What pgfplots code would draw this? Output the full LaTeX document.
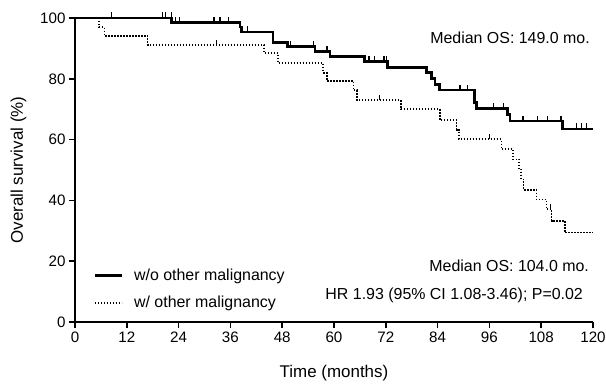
\documentclass[border=0pt]{standalone}
\usepackage{fontspec}
\setmainfont{Liberation Sans}
\usepackage{pgfplots}
\pgfplotsset{compat=1.18}
\pgfdeclareplotmark{cens}{\pgfpathmoveto{\pgfpointorigin}\pgfpathlineto{\pgfpoint{0pt}{5.5bp}}\pgfusepathqstroke}
\begin{document}
\begin{tikzpicture}
\begin{axis}[
  at={(0,0)}, anchor=south west,
  scale only axis, width=518bp, height=304bp,
  xmin=0, xmax=120, ymin=0, ymax=100,
  axis x line*=bottom, axis y line*=left,
  clip=false,
  xtick={0,12,...,120}, ytick={0,20,...,100},
  tick align=outside, major tick length=6bp,
  axis line style={line width=1.7bp},
  tick style={line width=1.7bp, black},
  /pgf/number format/assume math mode=true,
  ticklabel style={font=\fontsize{15.2}{18}\selectfont},
  xlabel={Time (months)}, ylabel={Overall survival (\%)},
  label style={font=\fontsize{17}{20}\selectfont},
  x label style={at={(axis description cs:0.5,-0.168)}, anchor=center},
  y label style={at={(axis description cs:-0.109,0.5)}, anchor=center},
  legend style={at={(axis cs:4.24,17.6)}, anchor=north west, draw=none, fill=none,
    font=\fontsize{16}{19}\selectfont, row sep=14.5bp, inner sep=0pt,
    nodes={inner sep=0pt}, cells={anchor=west},
    /tikz/every odd column/.append style={column sep=11bp}},
  legend image code/.code={\draw[#1] (0bp,0bp) -- (27bp,0bp);},
]
\addlegendimage{black, line width=2.6bp}
\addlegendentry{w/o other malignancy}
\addlegendimage{black, line width=1.7bp, dash pattern=on 1.5bp off 1.5bp}
\addlegendentry{w/ other malignancy}

% without other malignancy
\addplot[black, line width=2.7bp, const plot, forget plot] coordinates {
(0,100) (22.4,98.5) (38.2,97.0) (38.6,95.4) (45.9,92.0) (49.2,90.6) (55.6,88.9)
(59.1,87.3) (67.0,85.6) (72.4,83.7) (81.5,82.0) (82.6,80.2) (83.4,78.2) (84.5,76.3)
(92.5,72.3) (93.0,70.3) (100.2,68.2) (100.8,66.1) (113.0,63.5) (120,63.5)};
\addplot[black, line width=1.2bp, only marks, mark=cens, forget plot] coordinates {
(8.5,100) (20.3,100) (21,100) (22.4,100) (23.2,98.5) (24.2,98.5) (32.2,98.5)
(33.6,98.5) (35.5,98.5) (40,95.4) (50,90.6) (55.2,90.6) (58.4,88.9) (68.1,85.6)
(69.3,85.6) (71.6,85.6) (72.1,85.6) (89.2,76.3) (91,76.3) (96.9,70.3) (99.2,70.3)
(103.8,66.1) (107.2,66.1) (109.4,66.1) (112.6,66.1) (116.2,63.5) (117.4,63.5) (118.5,63.5)};

% with other malignancy
\addplot[black, line width=1.7bp, dash pattern=on 1.5bp off 1.5bp, const plot, forget plot] coordinates {
(0,100) (5.6,97.0) (6.8,94.1) (16.8,91.1) (43.8,88.4) (47.1,85.1) (57.5,82.0)
(58.3,79.3) (64.5,76.2) (65.3,73.0) (75.5,70.0) (84.5,66.4) (88.4,63.2) (89.0,60.1)
(98.8,56.8) (101.5,53.5) (102.9,50.2) (103.4,46.9) (103.9,43.5) (106.9,40.3)
(109.2,37.1) (110.4,33.3) (113.5,29.4) (120,29.4)};
\addplot[black, line width=1.1bp, only marks, mark=cens, forget plot] coordinates {
(32.8,91.1) (70.6,73.0) (96.1,60.1) (110.2,37.1)};

\node[anchor=base east, inner sep=0pt, font=\fontsize{16}{19}\selectfont] at (axis cs:119.3,91.7) {Median OS: 149.0 mo.};
\node[anchor=base east, inner sep=0pt, font=\fontsize{16}{19}\selectfont] at (axis cs:119.1,16.5) {Median OS: 104.0 mo.};
\node[anchor=base east, inner sep=0pt, font=\fontsize{16}{19}\selectfont] at (axis cs:117.7,7.3) {HR 1.93 (95\% CI 1.08-3.46); P=0.02};
\end{axis}
\pgfresetboundingbox
\useasboundingbox (-75bp,-65bp) rectangle (531bp,322bp);
\end{tikzpicture}
\end{document}
